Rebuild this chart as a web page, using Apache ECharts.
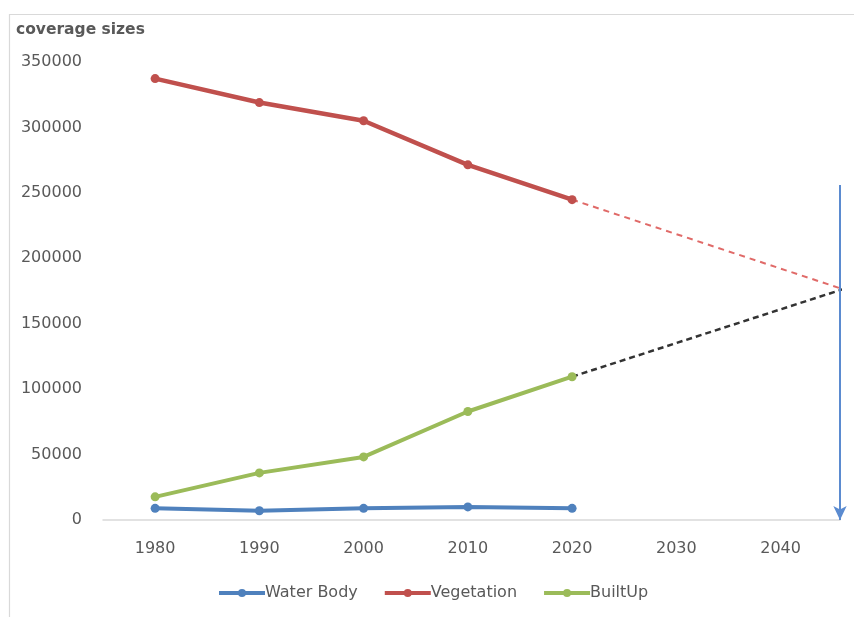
<!DOCTYPE html>
<html>
<head>
<meta charset="utf-8">
<script src="https://cdn.jsdelivr.net/npm/echarts@6/dist/echarts.min.js"></script>
<style>html,body{margin:0;padding:0;background:#fff}#c{width:854px;height:617px}</style>
</head>
<body>
<div id="c"></div>
<script>
// Data
var years = [1980, 1990, 2000, 2010, 2020];
var waterBody = [8900, 7100, 8900, 10000, 8900];
var vegetation = [337300, 319000, 305100, 271400, 244800];
var builtUp = [17700, 36000, 48200, 82900, 109500];
var projYears = [2020, 2047];
var vegetationProj = [244800, 173700];
var builtUpProj = [109500, 179000];
var arrowYear = 2045.7;
var arrowTop = 256000;
var arrowBottom = 0;

function pairs(xs, ys){ return xs.map(function(x,i){ return [x, ys[i]]; }); }

var txt = '#595959';
var chart = echarts.init(document.getElementById('c'));
chart.setOption({
  animation: false,
  backgroundColor: '#fff',
  textStyle: {fontFamily: 'DejaVu Sans'},
  graphic: [{
    type: 'rect', left: 7, top: 12, silent: true,
    shape: {width: 900, height: 700},
    style: {fill: 'none', stroke: '#d9d9d9', lineWidth: 1.2}
  }],
  title: {
    text: 'coverage sizes', left: 11, top: 17,
    textStyle: {fontFamily: 'DejaVu Sans', fontWeight: 'bold', fontSize: 15.5, color: txt}
  },
  legend: {
    data: ['Water Body', 'Vegetation', 'BuiltUp'],
    left: 212, top: 580,
    itemWidth: 46, itemHeight: 10, itemGap: 25,
    lineStyle: {width: 4},
    textStyle: {fontFamily: 'DejaVu Sans', fontSize: 16, color: txt, padding: [0,0,0,-5]}
  },
  grid: {left: 103, right: 14, top: 62, bottom: 97},
  xAxis: {
    type: 'value', min: 1975, max: arrowYear, interval: 5,
    axisLine: {lineStyle: {color: '#d9d9d9', width: 1.5}},
    axisTick: {show: false},
    splitLine: {show: false},
    axisLabel: {
      margin: 21, color: txt, fontSize: 16, fontFamily: 'DejaVu Sans',
      formatter: function(v){ return v % 10 === 0 ? String(v) : ''; }
    }
  },
  yAxis: {
    type: 'value', min: 0, max: 350000, interval: 50000,
    axisLine: {show: false}, axisTick: {show: false}, splitLine: {show: false},
    axisLabel: {margin: 21, color: txt, fontSize: 16, fontFamily: 'DejaVu Sans',
      formatter: function(v){ return String(v); }}
  },
  series: [
    {
      name: 'Vegetation proj', type: 'line', clip: false, symbol: 'none',
      data: pairs(projYears, vegetationProj),
      lineStyle: {color: '#e06a68', width: 2, type: [6, 5]}, z: 1
    },
    {
      name: 'BuiltUp proj', type: 'line', clip: false, symbol: 'none',
      data: pairs(projYears, builtUpProj),
      lineStyle: {color: '#333333', width: 2.5, type: [6, 4]}, z: 1,
      markLine: {
        silent: true, symbol: ['none', 'arrow'], symbolSize: [10, 14],
        label: {show: false},
        lineStyle: {color: '#5b8bd0', width: 2, type: 'solid'},
        data: [[{coord: [arrowYear, arrowTop]}, {coord: [arrowYear, arrowBottom]}]]
      }
    },
    {
      name: 'Water Body', type: 'line', symbol: 'circle', symbolSize: 9,
      data: pairs(years, waterBody),
      itemStyle: {color: '#4F81BD'}, lineStyle: {color: '#4F81BD', width: 4}, z: 3
    },
    {
      name: 'Vegetation', type: 'line', symbol: 'circle', symbolSize: 9,
      data: pairs(years, vegetation),
      itemStyle: {color: '#C0504D'}, lineStyle: {color: '#C0504D', width: 4.5}, z: 3
    },
    {
      name: 'BuiltUp', type: 'line', symbol: 'circle', symbolSize: 9,
      data: pairs(years, builtUp),
      itemStyle: {color: '#9BBB59'}, lineStyle: {color: '#9BBB59', width: 4}, z: 3
    }
  ]
});
</script>
</body>
</html>
